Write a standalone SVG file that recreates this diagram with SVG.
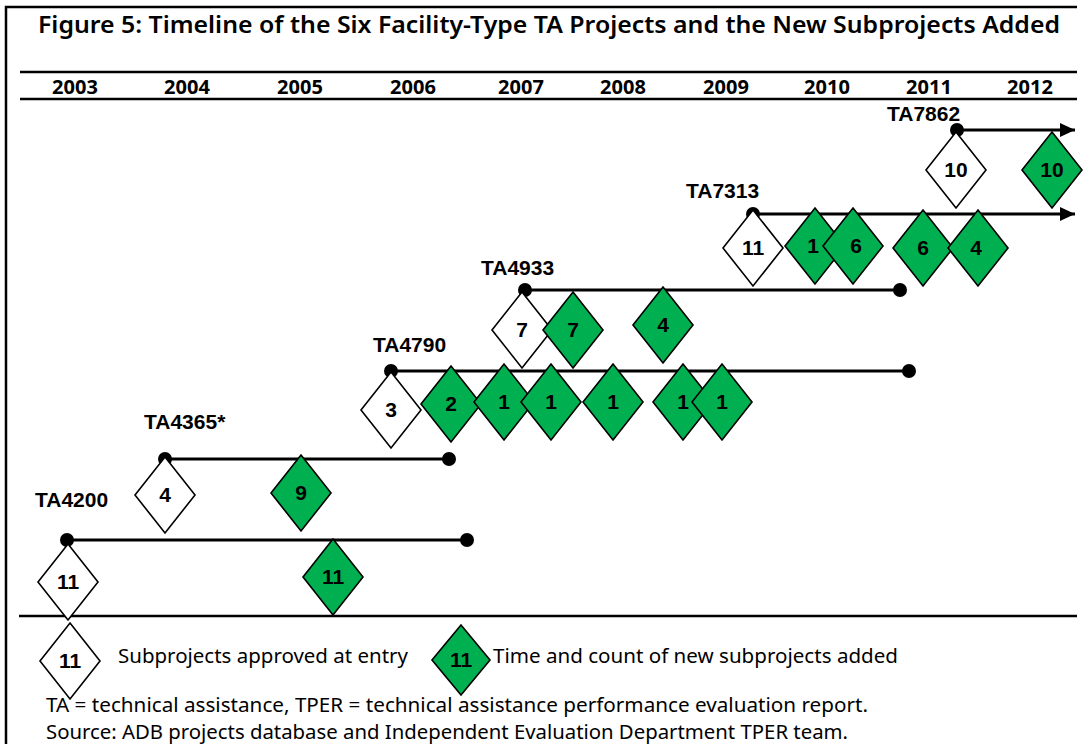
<svg xmlns="http://www.w3.org/2000/svg" width="1090" height="744" viewBox="0 0 1090 744">
<defs>
<style>
.frame{stroke:#000;stroke-width:2.5;fill:none}
.tl{stroke:#000;stroke-width:3;fill:none}
.dot{fill:#000}
.w{fill:#fff;stroke:#000;stroke-width:1.6}
.g{fill:#00b050;stroke:#000;stroke-width:1.6}
.num{font-family:"Liberation Sans",Arial,sans-serif;font-weight:bold;font-size:21px;text-anchor:middle;fill:#000}
.lab{font-family:"Liberation Sans",Arial,sans-serif;font-weight:bold;font-size:21px;fill:#000}
.title{font-family:"Noto Sans","Open Sans",sans-serif;font-weight:600;font-size:23px;fill:#000}
.yr{font-family:"Noto Sans","Open Sans",sans-serif;font-weight:bold;font-size:20px;text-anchor:middle;fill:#000}
.txt{font-family:"Noto Sans","Open Sans",sans-serif;font-size:19.5px;fill:#000}
</style>
<marker id="arr" markerUnits="userSpaceOnUse" markerWidth="16" markerHeight="14" refX="15" refY="7" orient="auto">
<path d="M0,0 L15,7 L0,14 z" fill="#000"/>
</marker>
<path id="dm" d="M0,-38 L30,0 L0,38 L-30,0 Z"/>
</defs>

<g id="frame">
<polyline class="frame" points="6,744 6,7 1077,7"/>
<line class="frame" x1="20" y1="72" x2="1077" y2="72"/>
<line class="frame" x1="20" y1="99" x2="1077" y2="99"/>
<line class="frame" x1="19" y1="616" x2="1077" y2="616" stroke-width="2"/>
</g>

<g id="title">
<text class="title" x="38" y="33" textLength="1022" lengthAdjust="spacingAndGlyphs">Figure 5: Timeline of the Six Facility-Type TA Projects and the New Subprojects Added</text>
</g>

<g id="years">
<text class="yr" x="75" y="94">2003</text>
<text class="yr" x="187" y="94">2004</text>
<text class="yr" x="300" y="94">2005</text>
<text class="yr" x="413" y="94">2006</text>
<text class="yr" x="521" y="94">2007</text>
<text class="yr" x="623" y="94">2008</text>
<text class="yr" x="726" y="94">2009</text>
<text class="yr" x="827" y="94">2010</text>
<text class="yr" x="929" y="94">2011</text>
<text class="yr" x="1030" y="94">2012</text>
</g>

<g id="connectors">
<line class="tl" x1="67" y1="540" x2="467" y2="540"/>
<circle class="dot" cx="67" cy="540" r="7"/><circle class="dot" cx="467" cy="540" r="7"/>
<line class="tl" x1="165" y1="459" x2="449" y2="459"/>
<circle class="dot" cx="165" cy="459" r="7"/><circle class="dot" cx="449" cy="459" r="7"/>
<line class="tl" x1="391" y1="371" x2="909" y2="371"/>
<circle class="dot" cx="391" cy="371" r="7"/><circle class="dot" cx="909" cy="371" r="7"/>
<line class="tl" x1="525" y1="290" x2="900" y2="290"/>
<circle class="dot" cx="525" cy="290" r="7"/><circle class="dot" cx="900" cy="290" r="7"/>
<line class="tl" x1="753" y1="214" x2="1075" y2="214" marker-end="url(#arr)"/>
<circle class="dot" cx="753" cy="214" r="7"/>
<line class="tl" x1="957" y1="130" x2="1075" y2="130" marker-end="url(#arr)"/>
<circle class="dot" cx="957" cy="130" r="7"/>
</g>

<g id="TA4200">
<text class="lab" x="35" y="507">TA4200</text>
<use href="#dm" class="w" x="68" y="582"/><text class="num" x="68" y="589">11</text>
<use href="#dm" class="g" x="333" y="577"/><text class="num" x="333" y="584">11</text>
</g>

<g id="TA4365">
<text class="lab" x="144" y="429">TA4365*</text>
<use href="#dm" class="w" x="165" y="495"/><text class="num" x="165" y="502">4</text>
<use href="#dm" class="g" x="301" y="493"/><text class="num" x="301" y="500">9</text>
</g>

<g id="TA4790">
<text class="lab" x="373" y="352">TA4790</text>
<use href="#dm" class="w" x="391" y="410"/><text class="num" x="391" y="417">3</text>
<use href="#dm" class="g" x="451" y="404"/><text class="num" x="451" y="411">2</text>
<use href="#dm" class="g" x="504" y="402"/><text class="num" x="504" y="409">1</text>
<use href="#dm" class="g" x="551" y="402"/><text class="num" x="551" y="409">1</text>
<use href="#dm" class="g" x="613" y="402"/><text class="num" x="613" y="409">1</text>
<use href="#dm" class="g" x="683" y="402"/><text class="num" x="683" y="409">1</text>
<use href="#dm" class="g" x="722" y="402"/><text class="num" x="722" y="409">1</text>
</g>

<g id="TA4933">
<text class="lab" x="481" y="275">TA4933</text>
<use href="#dm" class="w" x="522" y="330"/><text class="num" x="522" y="337">7</text>
<use href="#dm" class="g" x="573" y="330"/><text class="num" x="573" y="337">7</text>
<use href="#dm" class="g" x="663" y="325"/><text class="num" x="663" y="332">4</text>
</g>

<g id="TA7313">
<text class="lab" x="686" y="198">TA7313</text>
<use href="#dm" class="w" x="753" y="248"/><text class="num" x="753" y="255">11</text>
<use href="#dm" class="g" x="815" y="246"/><text class="num" x="813" y="253">1</text>
<use href="#dm" class="g" x="853" y="246"/><text class="num" x="856" y="253">6</text>
<use href="#dm" class="g" x="923" y="248"/><text class="num" x="923" y="255">6</text>
<use href="#dm" class="g" x="978" y="248"/><text class="num" x="976" y="255">4</text>
</g>

<g id="TA7862">
<text class="lab" x="887" y="121">TA7862</text>
<use href="#dm" class="w" x="956" y="170"/><text class="num" x="956" y="177">10</text>
<use href="#dm" class="g" x="1052" y="170"/><text class="num" x="1052" y="177">10</text>
</g>

<g id="legend">
<use href="#dm" class="w" x="70" y="661"/><text class="num" x="70" y="668">11</text>
<text class="txt" x="118" y="663" textLength="290" lengthAdjust="spacingAndGlyphs">Subprojects approved at entry</text>
<path class="g" d="M461,625 L490,660 L461,695 L432,660 Z"/><text class="num" x="461" y="667">11</text>
<text class="txt" x="493" y="663" textLength="405" lengthAdjust="spacingAndGlyphs">Time and count of new subprojects added</text>
</g>

<g id="notes">
<text class="txt" x="46" y="712" textLength="822" lengthAdjust="spacingAndGlyphs">TA = technical assistance, TPER = technical assistance performance evaluation report.</text>
<text class="txt" x="46" y="739" textLength="802" lengthAdjust="spacingAndGlyphs">Source: ADB projects database and Independent Evaluation Department TPER team.</text>
</g>
</svg>
